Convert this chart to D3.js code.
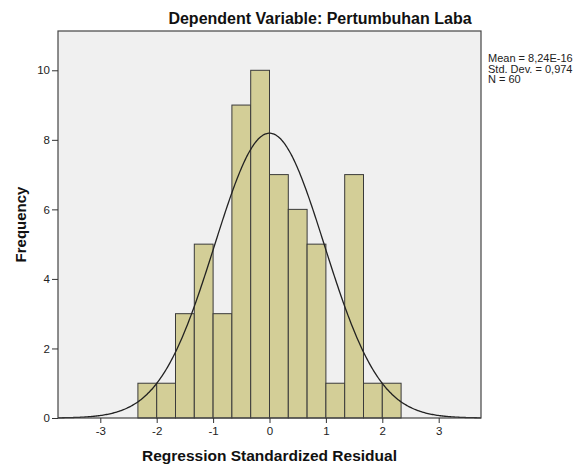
<!DOCTYPE html>
<html>
<head>
<meta charset="utf-8">
<script src="https://cdn.jsdelivr.net/npm/d3@7"></script>
<style>
  body { margin: 0; background: #fff; }
  text { font-family: "Liberation Sans", Arial, sans-serif; }
</style>
</head>
<body>
<div id="chart"></div>
<script>
// histogram bins (width 1/3) and counts
var binStart = [-2.3333, -2, -1.6667, -1.3333, -1, -0.6667, -0.3333, 0, 0.3333, 0.6667, 1, 1.3333, 1.6667, 2];
var binEnd   = [-2, -1.6667, -1.3333, -1, -0.6667, -0.3333, 0, 0.3333, 0.6667, 1, 1.3333, 1.6667, 2, 2.3333];
var counts   = [1, 1, 3, 5, 3, 9, 10, 7, 6, 5, 1, 7, 1, 1];

var xTicks = [-3, -2, -1, 0, 1, 2, 3];
var yTicks = [0, 2, 4, 6, 8, 10];
var statLines = ["Mean = 8,24E-16", "Std. Dev. = 0,974", "N = 60"];

var mean = 0, sd = 0.974, n = 60, binW = 1 / 3;

var W = 586, H = 468;
var margin = {top: 31, right: 105, bottom: 50, left: 58};
var width = W - margin.left - margin.right,
    height = H - margin.top - margin.bottom;

var svg = d3.select("#chart").append("svg")
    .attr("width", W)
    .attr("height", H);

var g = svg.append("g")
    .attr("transform", "translate(" + margin.left + "," + margin.top + ")");

var x = d3.scaleLinear().domain([-3.75, 3.75]).range([0, width]);
var y = d3.scaleLinear().domain([0, 11.13]).range([height, 0]);

// plot background
g.append("rect")
    .attr("width", width)
    .attr("height", height)
    .attr("fill", "#f0f0f0");

// bars
g.selectAll(".bar")
    .data(counts)
    .enter()
    .append("rect")
    .attr("class", "bar")
    .attr("x", function(d, i) { return x(binStart[i]); })
    .attr("width", function(d, i) { return x(binEnd[i]) - x(binStart[i]); })
    .attr("y", function(d) { return y(d); })
    .attr("height", function(d) { return y(0) - y(d); })
    .attr("fill", "#d3ce97")
    .attr("stroke", "#3a3a3a")
    .attr("stroke-width", 1);

// normal curve from the stats
var curve = d3.range(-3.75, 3.7501, 0.02).map(function(v) {
  var f = n * binW * Math.exp(-0.5 * Math.pow((v - mean) / sd, 2)) / (sd * Math.sqrt(2 * Math.PI));
  return [v, f];
});

g.append("path")
    .datum(curve)
    .attr("fill", "none")
    .attr("stroke", "#222")
    .attr("stroke-width", 1.3)
    .attr("d", d3.line()
        .x(function(d) { return x(d[0]); })
        .y(function(d) { return y(d[1]); })
        .curve(d3.curveBasis));

// frame
g.append("rect")
    .attr("width", width)
    .attr("height", height)
    .attr("fill", "none")
    .attr("stroke", "#444")
    .attr("stroke-width", 1.2);

// axes
var xAxis = g.append("g")
    .attr("transform", "translate(0," + height + ")")
    .call(d3.axisBottom(x).tickValues(xTicks).tickSize(5).tickPadding(4)
        .tickFormat(d3.format("d")));
var yAxis = g.append("g")
    .call(d3.axisLeft(y).tickValues(yTicks).tickSize(6).tickPadding(2)
        .tickFormat(d3.format("d")));

[xAxis, yAxis].forEach(function(a) {
  a.select(".domain").remove();
  a.selectAll("line").attr("stroke", "#333");
  a.selectAll("text")
    .attr("fill", "#222")
    .style("font-family", "'Liberation Sans', Arial, sans-serif")
    .style("font-size", "11.5px");
});
xAxis.selectAll("text").text(function(d) { return d < 0 ? "-" + Math.abs(d) : d; });

// titles
svg.append("text")
    .attr("x", 320)
    .attr("y", 24)
    .attr("text-anchor", "middle")
    .attr("font-size", "16px")
    .attr("font-weight", "bold")
    .attr("fill", "#111")
    .text("Dependent Variable: Pertumbuhan Laba");

svg.append("text")
    .attr("x", margin.left + x(0))
    .attr("y", 461)
    .attr("text-anchor", "middle")
    .attr("font-size", "15.5px")
    .attr("font-weight", "bold")
    .attr("fill", "#111")
    .text("Regression Standardized Residual");

svg.append("text")
    .attr("transform", "translate(26," + (margin.top + height / 2) + ") rotate(-90)")
    .attr("text-anchor", "middle")
    .attr("font-size", "15px")
    .attr("font-weight", "bold")
    .attr("fill", "#111")
    .text("Frequency");

// stats box
svg.selectAll(".stat")
    .data(statLines)
    .enter()
    .append("text")
    .attr("class", "stat")
    .attr("x", 488)
    .attr("y", function(d, i) { return 62 + i * 10.5; })
    .attr("font-size", "11px")
    .attr("fill", "#222")
    .text(function(d) { return d; });
</script>
</body>
</html>
